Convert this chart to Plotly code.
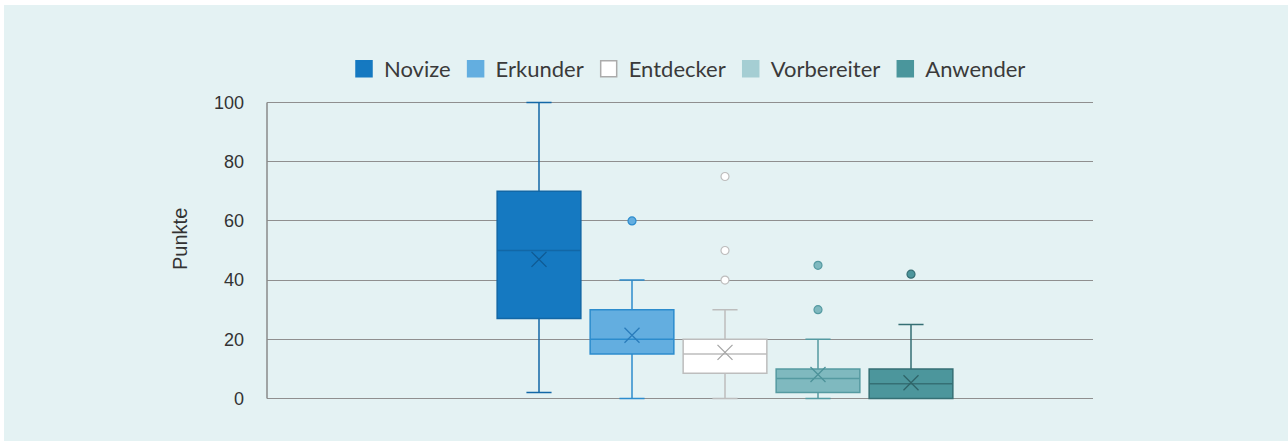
import plotly.graph_objects as go

groups = ["Novize", "Erkunder", "Entdecker", "Vorbereiter", "Anwender"]
q1 = [27, 15, 8.5, 2, 0]
median = [50, 20, 15, 6.8, 5]
q3 = [70, 30, 20, 10, 10]
lower = [2, 0, 0, 0, 0]
upper = [100, 40, 30, 20, 25]
means = [47, 21.4, 15.6, 8.1, 5.3]
outliers = [[], [60], [75, 50, 40], [45, 30], [42]]

fill_colors = ["#1579C1", "#63AEE0", "#FFFFFF", "#7FB9BF", "#4C969C"]
line_colors = ["#1267A6", "#2C8CCD", "#BDBDBD", "#559AA1", "#356F74"]
mean_colors = ["#0F5A93", "#2A7CBB", "#A6A6A6", "#4D9299", "#2F6468"]
legend_colors = ["#1579C1", "#63AEE0", "#FFFFFF", "#A5CED3", "#4A969C"]
legend_lines = ["#1579C1", "#63AEE0", "#ABABAB", "#A5CED3", "#4A969C"]

BG = "#E4F2F3"
W, H = 1288, 441
L, R, T, B = 267, 1093, 101, 400
YR = [-0.5, 100.5]

fig = go.Figure()
pos = list(range(len(groups)))
for i, g in enumerate(groups):
    fig.add_trace(go.Box(
        x=[pos[i]], q1=[q1[i]], median=[median[i]], q3=[q3[i]],
        lowerfence=[lower[i]], upperfence=[upper[i]],
        width=0.9, whiskerwidth=0.3, boxpoints=False,
        fillcolor=fill_colors[i], line=dict(color=line_colors[i], width=1.5),
        showlegend=False, hoverinfo="skip",
    ))
    fig.add_trace(go.Scatter(
        x=[pos[i]], y=[means[i]], mode="markers", showlegend=False,
        marker=dict(symbol="x-thin", size=15, line=dict(color=mean_colors[i], width=1.3)),
        hoverinfo="skip",
    ))
    if outliers[i]:
        fig.add_trace(go.Scatter(
            x=[pos[i]] * len(outliers[i]), y=outliers[i], mode="markers", showlegend=False,
            marker=dict(symbol="circle", size=8, color=fill_colors[i],
                        line=dict(color=line_colors[i], width=1.2)),
            hoverinfo="skip", cliponaxis=False,
        ))
    fig.add_trace(go.Scatter(
        x=[None], y=[None], mode="markers", name=g, showlegend=True,
        marker=dict(symbol="square", size=16, color=legend_colors[i],
                    line=dict(color=legend_lines[i], width=1.5)),
    ))

step = 93.0
x0px = 539.0
xr = [(L - x0px) / step, (R - x0px) / step]

def py(pix):
    # pixel row -> paper y
    return (B - pix) / (B - T)

def px(pix):
    return (pix - L) / (R - L)

fig.update_layout(
    width=W, height=H,
    margin=dict(l=L, r=W - R, t=T, b=H - B, pad=0),
    paper_bgcolor="#FFFFFF",
    plot_bgcolor=BG,
    font=dict(family="Liberation Sans, Arial, sans-serif", size=18, color="#333333"),
    xaxis=dict(range=xr, showgrid=False, zeroline=False, showticklabels=False,
               showline=False, ticks=""),
    yaxis=dict(range=YR, tickvals=[0, 20, 40, 60, 80, 100], showgrid=True,
               gridcolor="#8F8F8F", gridwidth=1, zeroline=False,
               showline=False, ticks="", ticklabelstandoff=22),
    legend=dict(orientation="h", x=px(344), xanchor="left",
                y=py(69), yanchor="middle",
                font=dict(family="Lato, sans-serif", size=22, color="#3A3A3A"),
                bgcolor="rgba(0,0,0,0)", itemclick=False),
    annotations=[dict(text="Punkte", textangle=-90, xref="paper", yref="paper",
                      x=px(180), y=py(239), xanchor="center", yanchor="middle",
                      showarrow=False,
                      font=dict(family="Liberation Sans, Arial, sans-serif", size=20, color="#333333"))],
    shapes=[dict(type="rect", xref="paper", yref="paper", layer="below",
                 x0=px(4), x1=px(W), y0=py(H), y1=py(5),
                 fillcolor=BG, line=dict(width=0)),
            dict(type="line", xref="paper", yref="y", x0=0, x1=0, y0=0, y1=100,
                 line=dict(color="#8A8A8A", width=1.5))],
)

fig.write_html("out.html", config={"displayModeBar": False},
               post_script="document.body.style.margin='0px';")
